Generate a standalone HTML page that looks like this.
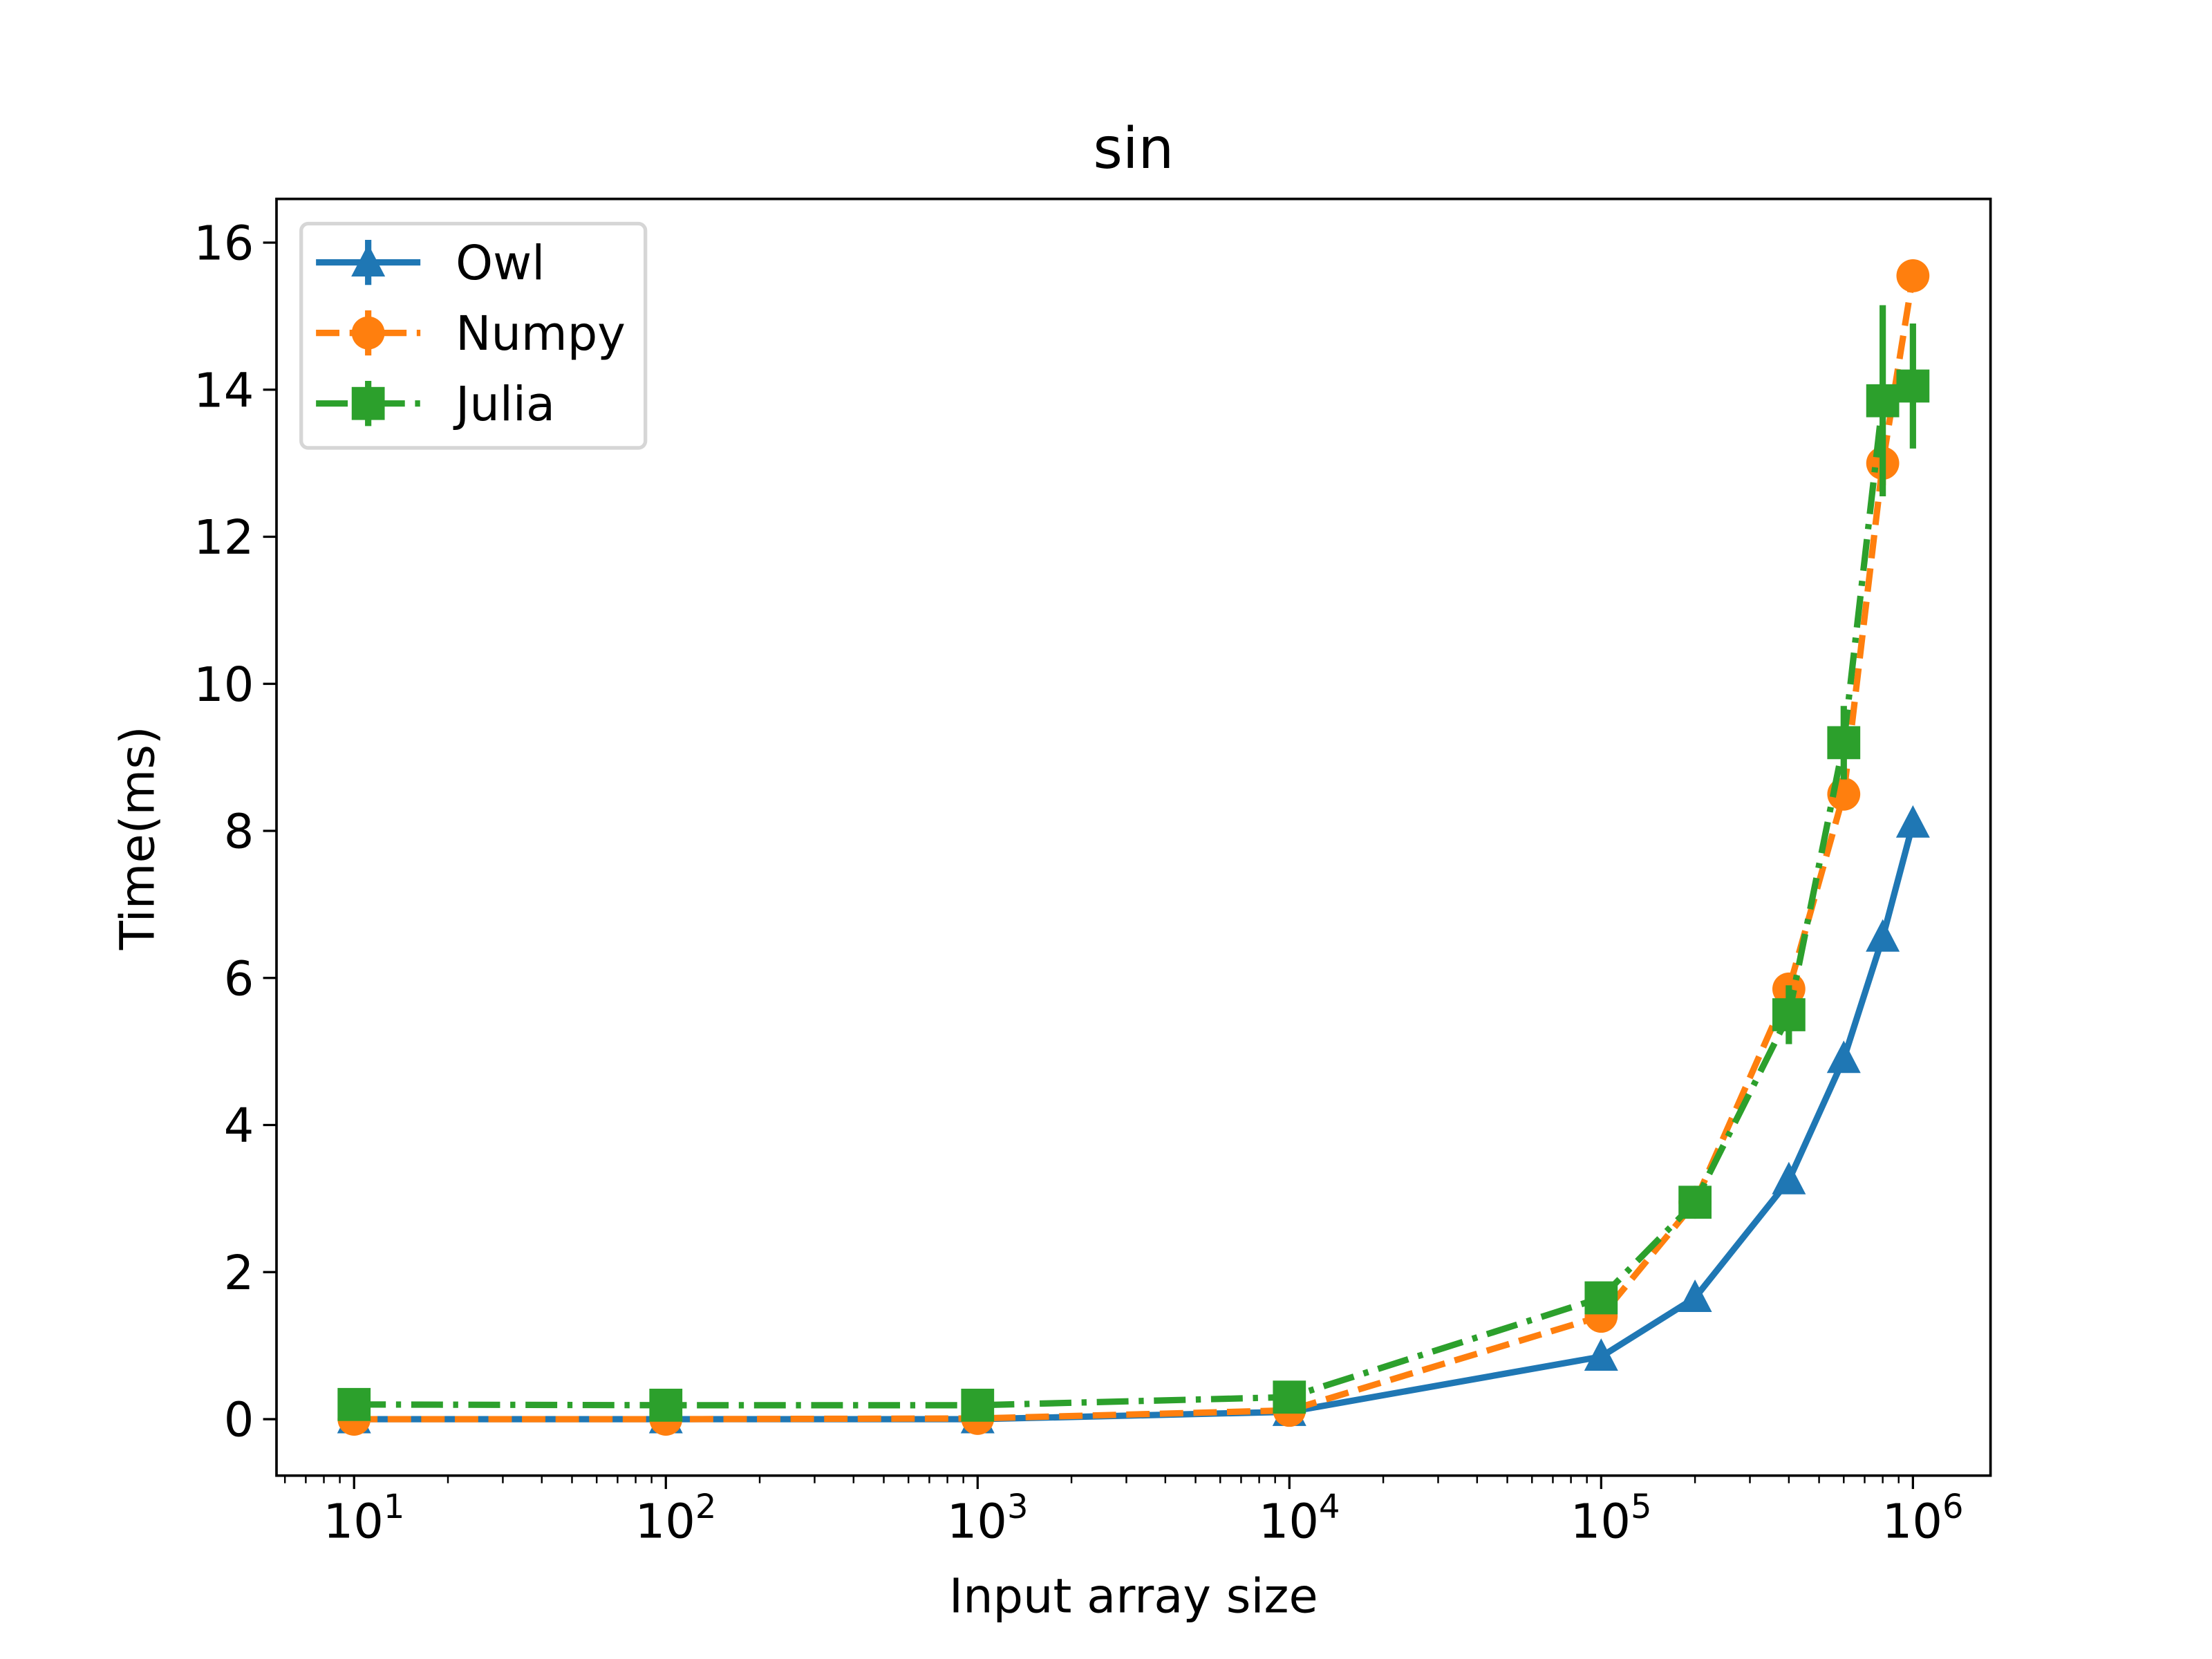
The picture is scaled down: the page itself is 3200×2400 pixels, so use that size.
<!DOCTYPE html>
<html><head><meta charset="utf-8"><style>
html,body{margin:0;padding:0;background:#fff;}
svg{display:block;font-family:"DejaVu Sans","Liberation Sans",sans-serif;}
</style></head><body>
<svg id="chart" width="3200" height="2400" viewBox="0 0 1568 1176" xmlns="http://www.w3.org/2000/svg">
<rect x="0" y="0" width="1568" height="1176" fill="#fff"/>
<g id="plot"></g>
<text x="803.5" y="119" font-size="40" text-anchor="middle">sin</text>
<text x="803.5" y="1143" font-size="33.6" text-anchor="middle">Input array size</text>
<text transform="translate(109,594) rotate(-90)" font-size="33.6" text-anchor="middle">Time(ms)</text>
</svg>
<script>
const xValues = [10, 100, 1000, 10000, 100000, 200000, 400000, 600000, 800000, 1000000];
const owlValues = [0.0, 0.0, 0.0, 0.1, 0.85, 1.65, 3.25, 4.9, 6.55, 8.1];
const owlErr = [0.02, 0.02, 0.02, 0.03, 0.05, 0.05, 0.08, 0.1, 0.12, 0.12];
const numpyValues = [0.0, 0.0, 0.01, 0.12, 1.4, 2.95, 5.85, 8.5, 13.0, 15.55];
const numpyErr = [0.02, 0.02, 0.02, 0.03, 0.08, 0.1, 0.2, 0.2, 0.3, 0.2];
const juliaValues = [0.2, 0.19, 0.19, 0.3, 1.65, 2.95, 5.5, 9.2, 13.85, 14.05];
const juliaErr = [0.02, 0.02, 0.02, 0.05, 0.08, 0.1, 0.4, 0.5, 1.3, 0.85];
const yTicks = [0, 2, 4, 6, 8, 10, 12, 14, 16];
const xTickExps = [1, 2, 3, 4, 5, 6];

const NS = 'http://www.w3.org/2000/svg';
const L = 196, R = 1411, T = 141, B = 1046;
function xs(v){ return 251 + (Math.log10(v) - 1) * 221; }
function ys(v){ return 1006 - v * 52.125; }
const plot = document.getElementById('plot');
function mk(tag, attrs, parent){
  const e = document.createElementNS(NS, tag);
  for (const k in attrs) e.setAttribute(k, attrs[k]);
  (parent || plot).appendChild(e);
  return e;
}

const tickG = mk('g', {});


yTicks.forEach(t => {
  const y = ys(t);
  const ln = mk('line', {x1: L - 9.5, x2: L, y1: y, y2: y, stroke: '#000', 'stroke-width': 1.6}, tickG);
  
  
  const tx = mk('text', {x: L - 16, y: y + 12, 'font-size': 33.6, 'text-anchor': 'end'}, tickG);
  
  
  tx.textContent = String(t);
});
const lo = Math.pow(10, (L - 251) / 221 + 1), hi = Math.pow(10, (R - 251) / 221 + 1);
for (let d = 0; d <= 7; d++) {
  for (let m = 1; m <= 9; m++) {
    const v = m * Math.pow(10, d);
    if (v < lo || v > hi) continue;
    const x = xs(v);
    const major = m === 1;
    const ln = mk('line', {x1: x, x2: x, y1: B, y2: B + (major ? 9.5 : 5.4), stroke: '#000', 'stroke-width': major ? 1.6 : 1.2}, tickG);
    
    
  }
}
xTickExps.forEach(e => {
  const x = xs(Math.pow(10, e));
  const tx = mk('text', {x: x + 7, y: 1090, 'font-size': 33.6, 'text-anchor': 'middle'}, tickG);
  
  
  tx.textContent = '10';
  const ts = mk('tspan', {dy: -14, 'font-size': 23.5}, tx);
  ts.textContent = String(e);
});

function series(name, vals, errs, color, dash, marker){
  const g = mk('g', {});
  
  
  vals.forEach((v, i) => {
    const x = xs(xValues[i]);
    const eb = mk('line', {x1: x, x2: x, y1: ys(v - errs[i]), y2: ys(v + errs[i]), stroke: color, 'stroke-width': 4.5}, g);
    
    
  });
  const pts = vals.map((v, i) => xs(xValues[i]).toFixed(2) + ',' + ys(v).toFixed(2)).join(' ');
  const pl = mk('polyline', {points: pts, fill: 'none', stroke: color, 'stroke-width': 4.5, 'stroke-dasharray': dash, 'stroke-linejoin': 'round'}, g);
  
  
  vals.forEach((v, i) => {
    drawMarker(g, marker, xs(xValues[i]), ys(v), color, name + '-point');
  });
}
function drawMarker(g, marker, x, y, color, nm){
  let e;
  if (marker === 'tri') e = mk('polygon', {points: `${x},${y-13} ${x-12},${y+10} ${x+12},${y+10}`, fill: color}, g);
  else if (marker === 'circ') e = mk('ellipse', {cx: x, cy: y, rx: 11.7, ry: 11.7, fill: color}, g);
  else e = mk('rect', {x: x - 11.7, y: y - 11.7, width: 23.4, height: 23.4, fill: color}, g);
  
  
}
series('owl', owlValues, owlErr, '#1f77b4', 'none', 'tri');
series('numpy', numpyValues, numpyErr, '#ff7f0e', '16.6 7.2', 'circ');
series('julia', juliaValues, juliaErr, '#2ca02c', '22.5 7.2 3.6 7.2', 'sq');

const fr = mk('rect', {x: L, y: T, width: R - L, height: B - T, fill: 'none', stroke: '#000', 'stroke-width': 1.8});



const lg = mk('g', {});


const lb = mk('rect', {x: 213.5, y: 158.5, width: 244, height: 159, rx: 5, fill: '#fff', 'fill-opacity': 0.8, stroke: '#d6d6d6', 'stroke-width': 2.6}, lg);


const entries = [['Owl', '#1f77b4', 'none', 'tri', 186], ['Numpy', '#ff7f0e', '16.6 7.2', 'circ', 236], ['Julia', '#2ca02c', '22.5 7.2 3.6 7.2', 'sq', 286]];
entries.forEach(en => {
  const eg = mk('g', {}, lg);
  
  
  const y = en[4];
  const l1 = mk('line', {x1: 224, x2: 298, y1: y, y2: y, stroke: en[1], 'stroke-width': 4.5, 'stroke-dasharray': en[2]}, eg);
  
  
  const l2 = mk('line', {x1: 261, x2: 261, y1: y - 16, y2: y + 16, stroke: en[1], 'stroke-width': 4.5}, eg);
  
  
  drawMarker(eg, en[3], 261, y, en[1], 'legend-marker');
  const t = mk('text', {x: 323, y: y + 12, 'font-size': 33.6}, eg);
  
  
  t.textContent = en[0];
});
</script>
</body></html>
